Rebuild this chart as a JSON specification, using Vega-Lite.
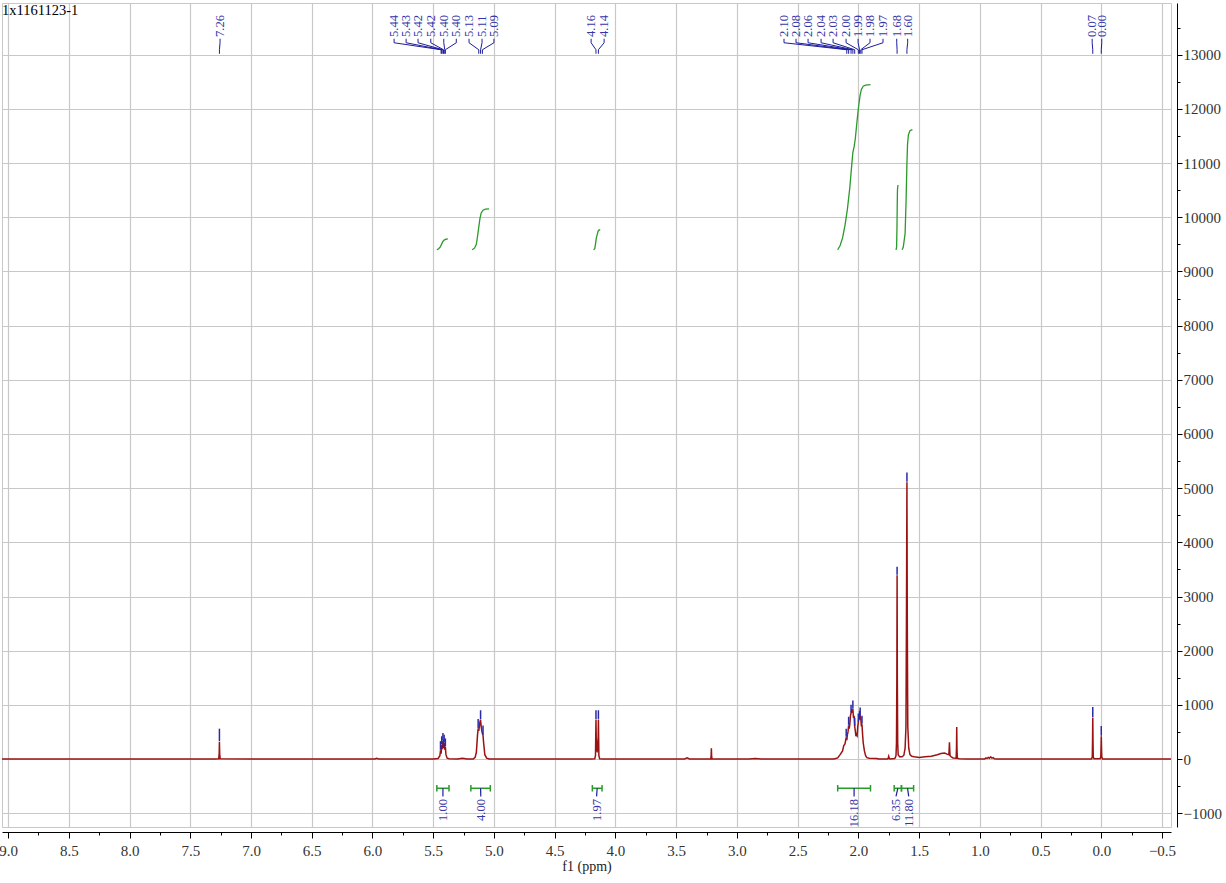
{
"$schema": "https://vega.github.io/schema/vega-lite/v6.json",
"width": 1169, "height": 824,
"autosize": {"type": "none"},
"padding": {"left": 2, "top": 3, "right": 55, "bottom": 56},
"background": "white",
"title": {"text": "1x1161123-1", "anchor": "start", "frame": "group", "orient": "top", "offset": -15, "font": "Liberation Serif", "fontSize": 14.5, "fontWeight": "normal", "color": "#000"},
"config": {"view": {"stroke": "#c8c8c8"}},
"datasets": {
"spec": [
{"ppm": 9.05, "i": 0}, {"ppm": 7.30, "i": 0}, {"ppm": 7.266, "i": 5}, {"ppm": 7.262, "i": 100}, {"ppm": 7.26, "i": 320}, {"ppm": 7.258, "i": 100}, {"ppm": 7.254, "i": 5}, {"ppm": 7.0, "i": 0},
{"ppm": 5.98, "i": 0}, {"ppm": 5.965, "i": 12}, {"ppm": 5.95, "i": 0},
{"ppm": 5.50, "i": 0}, {"ppm": 5.46, "i": 10}, {"ppm": 5.445, "i": 60}, {"ppm": 5.44, "i": 160}, {"ppm": 5.435, "i": 100}, {"ppm": 5.43, "i": 260}, {"ppm": 5.425, "i": 180}, {"ppm": 5.42, "i": 330}, {"ppm": 5.415, "i": 200}, {"ppm": 5.41, "i": 300}, {"ppm": 5.405, "i": 170}, {"ppm": 5.40, "i": 220}, {"ppm": 5.395, "i": 80}, {"ppm": 5.385, "i": 15}, {"ppm": 5.37, "i": 5},
{"ppm": 5.30, "i": 0}, {"ppm": 5.26, "i": 12}, {"ppm": 5.22, "i": 0},
{"ppm": 5.17, "i": 0}, {"ppm": 5.155, "i": 30}, {"ppm": 5.145, "i": 120}, {"ppm": 5.135, "i": 450}, {"ppm": 5.13, "i": 560}, {"ppm": 5.125, "i": 520}, {"ppm": 5.12, "i": 600}, {"ppm": 5.115, "i": 690}, {"ppm": 5.11, "i": 720}, {"ppm": 5.105, "i": 600}, {"ppm": 5.10, "i": 520}, {"ppm": 5.095, "i": 470}, {"ppm": 5.09, "i": 440}, {"ppm": 5.085, "i": 300}, {"ppm": 5.075, "i": 80}, {"ppm": 5.06, "i": 15}, {"ppm": 5.04, "i": 0},
{"ppm": 4.20, "i": 0}, {"ppm": 4.17, "i": 5}, {"ppm": 4.164, "i": 60}, {"ppm": 4.162, "i": 400}, {"ppm": 4.16, "i": 730}, {"ppm": 4.158, "i": 400}, {"ppm": 4.152, "i": 150}, {"ppm": 4.15, "i": 140}, {"ppm": 4.148, "i": 150}, {"ppm": 4.142, "i": 400}, {"ppm": 4.14, "i": 730}, {"ppm": 4.138, "i": 400}, {"ppm": 4.136, "i": 60}, {"ppm": 4.13, "i": 5}, {"ppm": 4.10, "i": 0},
{"ppm": 3.43, "i": 0}, {"ppm": 3.41, "i": 20}, {"ppm": 3.39, "i": 0},
{"ppm": 3.215, "i": 0}, {"ppm": 3.212, "i": 60}, {"ppm": 3.21, "i": 200}, {"ppm": 3.208, "i": 60}, {"ppm": 3.205, "i": 0},
{"ppm": 2.90, "i": 0}, {"ppm": 2.85, "i": 10}, {"ppm": 2.80, "i": 0},
{"ppm": 2.20, "i": 0}, {"ppm": 2.17, "i": 20}, {"ppm": 2.15, "i": 80}, {"ppm": 2.13, "i": 150}, {"ppm": 2.12, "i": 250}, {"ppm": 2.11, "i": 280}, {"ppm": 2.10, "i": 400}, {"ppm": 2.095, "i": 350}, {"ppm": 2.09, "i": 450}, {"ppm": 2.085, "i": 500}, {"ppm": 2.08, "i": 620}, {"ppm": 2.075, "i": 560}, {"ppm": 2.07, "i": 650}, {"ppm": 2.065, "i": 800}, {"ppm": 2.06, "i": 850}, {"ppm": 2.055, "i": 900}, {"ppm": 2.05, "i": 880}, {"ppm": 2.045, "i": 920}, {"ppm": 2.04, "i": 760}, {"ppm": 2.035, "i": 800}, {"ppm": 2.03, "i": 600}, {"ppm": 2.025, "i": 520}, {"ppm": 2.02, "i": 420}, {"ppm": 2.015, "i": 450}, {"ppm": 2.01, "i": 430}, {"ppm": 2.005, "i": 600}, {"ppm": 2.00, "i": 680}, {"ppm": 1.995, "i": 780}, {"ppm": 1.99, "i": 730}, {"ppm": 1.985, "i": 790}, {"ppm": 1.98, "i": 760}, {"ppm": 1.975, "i": 600}, {"ppm": 1.97, "i": 640}, {"ppm": 1.965, "i": 450}, {"ppm": 1.96, "i": 300}, {"ppm": 1.95, "i": 150}, {"ppm": 1.94, "i": 60}, {"ppm": 1.93, "i": 25}, {"ppm": 1.91, "i": 15}, {"ppm": 1.85, "i": 10}, {"ppm": 1.83, "i": 0},
{"ppm": 1.76, "i": 0}, {"ppm": 1.755, "i": 10}, {"ppm": 1.75, "i": 50}, {"ppm": 1.745, "i": 10}, {"ppm": 1.74, "i": 0},
{"ppm": 1.70, "i": 10}, {"ppm": 1.69, "i": 60}, {"ppm": 1.686, "i": 300}, {"ppm": 1.683, "i": 1500}, {"ppm": 1.681, "i": 3390}, {"ppm": 1.679, "i": 1500}, {"ppm": 1.676, "i": 300}, {"ppm": 1.672, "i": 80}, {"ppm": 1.66, "i": 40},
{"ppm": 1.64, "i": 40}, {"ppm": 1.625, "i": 70}, {"ppm": 1.615, "i": 200}, {"ppm": 1.608, "i": 600}, {"ppm": 1.604, "i": 2500}, {"ppm": 1.60, "i": 5110}, {"ppm": 1.597, "i": 2500}, {"ppm": 1.593, "i": 600}, {"ppm": 1.585, "i": 200}, {"ppm": 1.575, "i": 80}, {"ppm": 1.56, "i": 50}, {"ppm": 1.54, "i": 40}, {"ppm": 1.50, "i": 30}, {"ppm": 1.45, "i": 40},
{"ppm": 1.40, "i": 50}, {"ppm": 1.35, "i": 80}, {"ppm": 1.32, "i": 100}, {"ppm": 1.29, "i": 110}, {"ppm": 1.27, "i": 90}, {"ppm": 1.255, "i": 80}, {"ppm": 1.252, "i": 200}, {"ppm": 1.25, "i": 310}, {"ppm": 1.248, "i": 200}, {"ppm": 1.245, "i": 60}, {"ppm": 1.235, "i": 40}, {"ppm": 1.22, "i": 20}, {"ppm": 1.195, "i": 15}, {"ppm": 1.192, "i": 200}, {"ppm": 1.19, "i": 590}, {"ppm": 1.188, "i": 200}, {"ppm": 1.185, "i": 15}, {"ppm": 1.17, "i": 5}, {"ppm": 1.10, "i": 0},
{"ppm": 0.96, "i": 0}, {"ppm": 0.95, "i": 20}, {"ppm": 0.94, "i": 10}, {"ppm": 0.93, "i": 30}, {"ppm": 0.92, "i": 15}, {"ppm": 0.91, "i": 40}, {"ppm": 0.90, "i": 15}, {"ppm": 0.89, "i": 25}, {"ppm": 0.88, "i": 5}, {"ppm": 0.86, "i": 0},
{"ppm": 0.08, "i": 0}, {"ppm": 0.074, "i": 40}, {"ppm": 0.072, "i": 300}, {"ppm": 0.07, "i": 765}, {"ppm": 0.068, "i": 300}, {"ppm": 0.066, "i": 40}, {"ppm": 0.06, "i": 5},
{"ppm": 0.01, "i": 5}, {"ppm": 0.004, "i": 40}, {"ppm": 0.002, "i": 200}, {"ppm": 0.0, "i": 420}, {"ppm": -0.002, "i": 200}, {"ppm": -0.004, "i": 40}, {"ppm": -0.01, "i": 0},
{"ppm": -0.574, "i": 0}
],
"marks": [
{"ppm": 7.26, "lo": 330, "hi": 560},
{"ppm": 5.44, "lo": 170, "hi": 330}, {"ppm": 5.43, "lo": 270, "hi": 420}, {"ppm": 5.42, "lo": 340, "hi": 480}, {"ppm": 5.415, "lo": 210, "hi": 360}, {"ppm": 5.41, "lo": 310, "hi": 450}, {"ppm": 5.40, "lo": 230, "hi": 380},
{"ppm": 5.13, "lo": 570, "hi": 740}, {"ppm": 5.11, "lo": 730, "hi": 900}, {"ppm": 5.09, "lo": 450, "hi": 620},
{"ppm": 4.16, "lo": 740, "hi": 900}, {"ppm": 4.14, "lo": 740, "hi": 900},
{"ppm": 2.10, "lo": 410, "hi": 560}, {"ppm": 2.08, "lo": 630, "hi": 780}, {"ppm": 2.06, "lo": 860, "hi": 1000}, {"ppm": 2.045, "lo": 930, "hi": 1080}, {"ppm": 2.03, "lo": 610, "hi": 760}, {"ppm": 2.00, "lo": 690, "hi": 840}, {"ppm": 1.99, "lo": 740, "hi": 890}, {"ppm": 1.985, "lo": 800, "hi": 950}, {"ppm": 1.97, "lo": 650, "hi": 800},
{"ppm": 1.681, "lo": 3400, "hi": 3550},
{"ppm": 1.60, "lo": 5120, "hi": 5290},
{"ppm": 0.07, "lo": 775, "hi": 960},
{"ppm": 0.0, "lo": 430, "hi": 610}
],
"plabels": [
{"label": "7.26", "ppm": 7.26, "lx": 7.255},
{"label": "5.44", "ppm": 5.435, "lx": 5.822},
{"label": "5.43", "ppm": 5.43, "lx": 5.723},
{"label": "5.42", "ppm": 5.42, "lx": 5.625},
{"label": "5.42", "ppm": 5.415, "lx": 5.52},
{"label": "5.40", "ppm": 5.405, "lx": 5.413},
{"label": "5.40", "ppm": 5.40, "lx": 5.31},
{"label": "5.13", "ppm": 5.125, "lx": 5.205},
{"label": "5.11", "ppm": 5.11, "lx": 5.098},
{"label": "5.09", "ppm": 5.095, "lx": 5.0},
{"label": "4.16", "ppm": 4.16, "lx": 4.20},
{"label": "4.14", "ppm": 4.14, "lx": 4.093},
{"label": "2.10", "ppm": 2.095, "lx": 2.612},
{"label": "2.08", "ppm": 2.08, "lx": 2.513},
{"label": "2.06", "ppm": 2.06, "lx": 2.414},
{"label": "2.04", "ppm": 2.045, "lx": 2.307},
{"label": "2.03", "ppm": 2.03, "lx": 2.208},
{"label": "2.00", "ppm": 2.00, "lx": 2.101},
{"label": "1.99", "ppm": 1.99, "lx": 2.002},
{"label": "1.98", "ppm": 1.98, "lx": 1.904},
{"label": "1.97", "ppm": 1.97, "lx": 1.797},
{"label": "1.68", "ppm": 1.681, "lx": 1.684},
{"label": "1.60", "ppm": 1.60, "lx": 1.594},
{"label": "0.07", "ppm": 0.07, "lx": 0.075},
{"label": "0.00", "ppm": 0.0, "lx": -0.004}
],
"integ": [
{"g": "a", "ppm": 5.47, "v": 9400}, {"g": "a", "ppm": 5.455, "v": 9420}, {"g": "a", "ppm": 5.44, "v": 9460}, {"g": "a", "ppm": 5.43, "v": 9510}, {"g": "a", "ppm": 5.42, "v": 9555}, {"g": "a", "ppm": 5.41, "v": 9580}, {"g": "a", "ppm": 5.395, "v": 9595}, {"g": "a", "ppm": 5.38, "v": 9600},
{"g": "b", "ppm": 5.18, "v": 9400}, {"g": "b", "ppm": 5.16, "v": 9430}, {"g": "b", "ppm": 5.145, "v": 9500}, {"g": "b", "ppm": 5.135, "v": 9650}, {"g": "b", "ppm": 5.125, "v": 9820}, {"g": "b", "ppm": 5.115, "v": 9980}, {"g": "b", "ppm": 5.105, "v": 10080}, {"g": "b", "ppm": 5.09, "v": 10130}, {"g": "b", "ppm": 5.07, "v": 10150}, {"g": "b", "ppm": 5.04, "v": 10155},
{"g": "c", "ppm": 4.18, "v": 9400}, {"g": "c", "ppm": 4.17, "v": 9420}, {"g": "c", "ppm": 4.163, "v": 9520}, {"g": "c", "ppm": 4.157, "v": 9620}, {"g": "c", "ppm": 4.15, "v": 9680}, {"g": "c", "ppm": 4.143, "v": 9740}, {"g": "c", "ppm": 4.136, "v": 9765}, {"g": "c", "ppm": 4.125, "v": 9770},
{"g": "d", "ppm": 2.17, "v": 9400}, {"g": "d", "ppm": 2.15, "v": 9480}, {"g": "d", "ppm": 2.13, "v": 9620}, {"g": "d", "ppm": 2.11, "v": 9850}, {"g": "d", "ppm": 2.09, "v": 10150}, {"g": "d", "ppm": 2.07, "v": 10550}, {"g": "d", "ppm": 2.055, "v": 10950}, {"g": "d", "ppm": 2.045, "v": 11200}, {"g": "d", "ppm": 2.035, "v": 11300}, {"g": "d", "ppm": 2.025, "v": 11450}, {"g": "d", "ppm": 2.015, "v": 11680}, {"g": "d", "ppm": 2.005, "v": 11900}, {"g": "d", "ppm": 1.995, "v": 12100}, {"g": "d", "ppm": 1.985, "v": 12260}, {"g": "d", "ppm": 1.975, "v": 12360}, {"g": "d", "ppm": 1.96, "v": 12420}, {"g": "d", "ppm": 1.94, "v": 12440}, {"g": "d", "ppm": 1.90, "v": 12450},
{"g": "e", "ppm": 1.69, "v": 9400}, {"g": "e", "ppm": 1.685, "v": 9450}, {"g": "e", "ppm": 1.682, "v": 9800}, {"g": "e", "ppm": 1.68, "v": 10200}, {"g": "e", "ppm": 1.678, "v": 10500}, {"g": "e", "ppm": 1.675, "v": 10580}, {"g": "e", "ppm": 1.67, "v": 10590},
{"g": "f", "ppm": 1.64, "v": 9400}, {"g": "f", "ppm": 1.63, "v": 9450}, {"g": "f", "ppm": 1.615, "v": 9700}, {"g": "f", "ppm": 1.607, "v": 10300}, {"g": "f", "ppm": 1.60, "v": 11000}, {"g": "f", "ppm": 1.595, "v": 11350}, {"g": "f", "ppm": 1.588, "v": 11520}, {"g": "f", "ppm": 1.575, "v": 11600}, {"g": "f", "ppm": 1.555, "v": 11620}
],
"ilabels": [
{"label": "1.00", "a": 5.47, "b": 5.37, "c": 5.42, "lx": 5.42},
{"label": "4.00", "a": 5.19, "b": 5.03, "c": 5.11, "lx": 5.108},
{"label": "1.97", "a": 4.19, "b": 4.11, "c": 4.15, "lx": 4.155},
{"label": "16.18", "a": 2.17, "b": 1.90, "c": 2.035, "lx": 2.035},
{"label": "6.35", "a": 1.705, "b": 1.645, "c": 1.675, "lx": 1.69},
{"label": "11.80", "a": 1.645, "b": 1.545, "c": 1.595, "lx": 1.585}
]
},
"resolve": {"axis": {"x": "independent", "y": "independent"}},
"layer": [
{
"data": {"name": "spec"},
"mark": {"type": "line", "color": "#9a1212", "strokeWidth": 1.5, "clip": true},
"encoding": {
"x": {"field": "ppm", "type": "quantitative",
"scale": {"domain": [-0.574, 9.05], "reverse": true, "nice": false, "zero": false},
"axis": {"orient": "bottom", "values": [9, 8.5, 8, 7.5, 7, 6.5, 6, 5.5, 5, 4.5, 4, 3.5, 3, 2.5, 2, 1.5, 1, 0.5, 0, -0.5], "format": ".1f", "grid": true, "gridColor": "#c8c8c8", "gridWidth": 1.2, "domainColor": "#000", "tickColor": "#000", "tickSize": 6, "offset": 5, "labelFont": "Liberation Serif", "labelFontSize": 15, "labelColor": "#333", "labelPadding": 5, "labelOverlap": false, "labelFlush": false, "title": "f1 (ppm)", "titleFont": "Liberation Serif", "titleFontSize": 14, "titleFontWeight": "normal", "titleColor": "#222", "titlePadding": 1}},
"y": {"field": "i", "type": "quantitative",
"scale": {"domain": [-1255, 13956], "nice": false, "zero": false},
"axis": {"orient": "right", "values": [-1000, 0, 1000, 2000, 3000, 4000, 5000, 6000, 7000, 8000, 9000, 10000, 11000, 12000, 13000], "format": "d", "grid": true, "gridColor": "#c8c8c8", "gridWidth": 1.2, "domainColor": "#000", "tickColor": "#000", "tickSize": 5, "offset": 6, "labelFont": "Liberation Serif", "labelFontSize": 15, "labelColor": "#333", "labelPadding": 1, "labelOverlap": false, "labelFlush": false, "title": null}}
}
},
{
"data": {"name": "marks"},
"mark": {"type": "rule", "color": "#2a2aa8", "strokeWidth": 1.5},
"encoding": {
"x": {"field": "ppm", "type": "quantitative", "axis": {"orient": "bottom", "values": [8.75, 8.25, 7.75, 7.25, 6.75, 6.25, 5.75, 5.25, 4.75, 4.25, 3.75, 3.25, 2.75, 2.25, 1.75, 1.25, 0.75, 0.25, -0.25], "grid": false, "labels": false, "domain": false, "tickColor": "#000", "tickSize": 3, "offset": 5, "title": null}},
"y": {"field": "lo", "type": "quantitative", "axis": {"orient": "right", "values": [-500, 500, 1500, 2500, 3500, 4500, 5500, 6500, 7500, 8500, 9500, 10500, 11500, 12500, 13500], "grid": false, "labels": false, "domain": false, "tickColor": "#000", "tickSize": 3, "offset": 6, "title": null}},
"y2": {"field": "hi"}
}
},
{
"data": {"name": "integ"},
"mark": {"type": "line", "color": "#2a9a2a", "strokeWidth": 1.3},
"encoding": {
"x": {"field": "ppm", "type": "quantitative", "axis": null},
"y": {"field": "v", "type": "quantitative", "axis": null},
"detail": {"field": "g"}
}
},
{
"data": {"name": "plabels"},
"mark": {"type": "rule", "color": "#1c1c9c", "strokeWidth": 1},
"encoding": {
"x": {"field": "lx", "type": "quantitative", "axis": null},
"y": {"datum": 13296, "type": "quantitative", "axis": null},
"y2": {"datum": 13222}
}
},
{
"data": {"name": "plabels"},
"mark": {"type": "rule", "color": "#1c1c9c", "strokeWidth": 1},
"encoding": {
"x": {"field": "lx", "type": "quantitative", "axis": null},
"x2": {"field": "ppm"},
"y": {"datum": 13222, "type": "quantitative", "axis": null},
"y2": {"datum": 13093}
}
},
{
"data": {"name": "plabels"},
"mark": {"type": "rule", "color": "#1c1c9c", "strokeWidth": 1},
"encoding": {
"x": {"field": "ppm", "type": "quantitative", "axis": null},
"y": {"datum": 13093, "type": "quantitative", "axis": null},
"y2": {"datum": 13019}
}
},
{
"data": {"name": "plabels"},
"mark": {"type": "text", "angle": 270, "align": "left", "baseline": "middle", "font": "Liberation Serif", "fontSize": 12.5, "color": "#3535a8"},
"encoding": {
"x": {"field": "lx", "type": "quantitative", "axis": null},
"y": {"datum": 13330, "type": "quantitative", "axis": null},
"text": {"field": "label"}
}
},
{
"data": {"name": "ilabels"},
"mark": {"type": "rule", "color": "#2a9a2a", "strokeWidth": 1.5},
"encoding": {
"x": {"field": "a", "type": "quantitative", "axis": null},
"x2": {"field": "b"},
"y": {"datum": -540, "type": "quantitative", "axis": null}
}
},
{
"data": {"name": "ilabels"},
"mark": {"type": "rule", "color": "#2a9a2a", "strokeWidth": 1.5},
"encoding": {
"x": {"field": "a", "type": "quantitative", "axis": null},
"y": {"datum": -480, "type": "quantitative", "axis": null},
"y2": {"datum": -600}
}
},
{
"data": {"name": "ilabels"},
"mark": {"type": "rule", "color": "#2a9a2a", "strokeWidth": 1.5},
"encoding": {
"x": {"field": "b", "type": "quantitative", "axis": null},
"y": {"datum": -480, "type": "quantitative", "axis": null},
"y2": {"datum": -600}
}
},
{
"data": {"name": "ilabels"},
"mark": {"type": "rule", "color": "#1c1c9c", "strokeWidth": 1.2},
"encoding": {
"x": {"field": "c", "type": "quantitative", "axis": null},
"x2": {"field": "lx"},
"y": {"datum": -540, "type": "quantitative", "axis": null},
"y2": {"datum": -690}
}
},
{
"data": {"name": "ilabels"},
"mark": {"type": "text", "angle": 270, "align": "right", "baseline": "middle", "font": "Liberation Serif", "fontSize": 12.5, "color": "#3535a8", "clip": true},
"encoding": {
"x": {"field": "lx", "type": "quantitative", "axis": null},
"y": {"datum": -740, "type": "quantitative", "axis": null},
"text": {"field": "label"}
}
}
]
}
